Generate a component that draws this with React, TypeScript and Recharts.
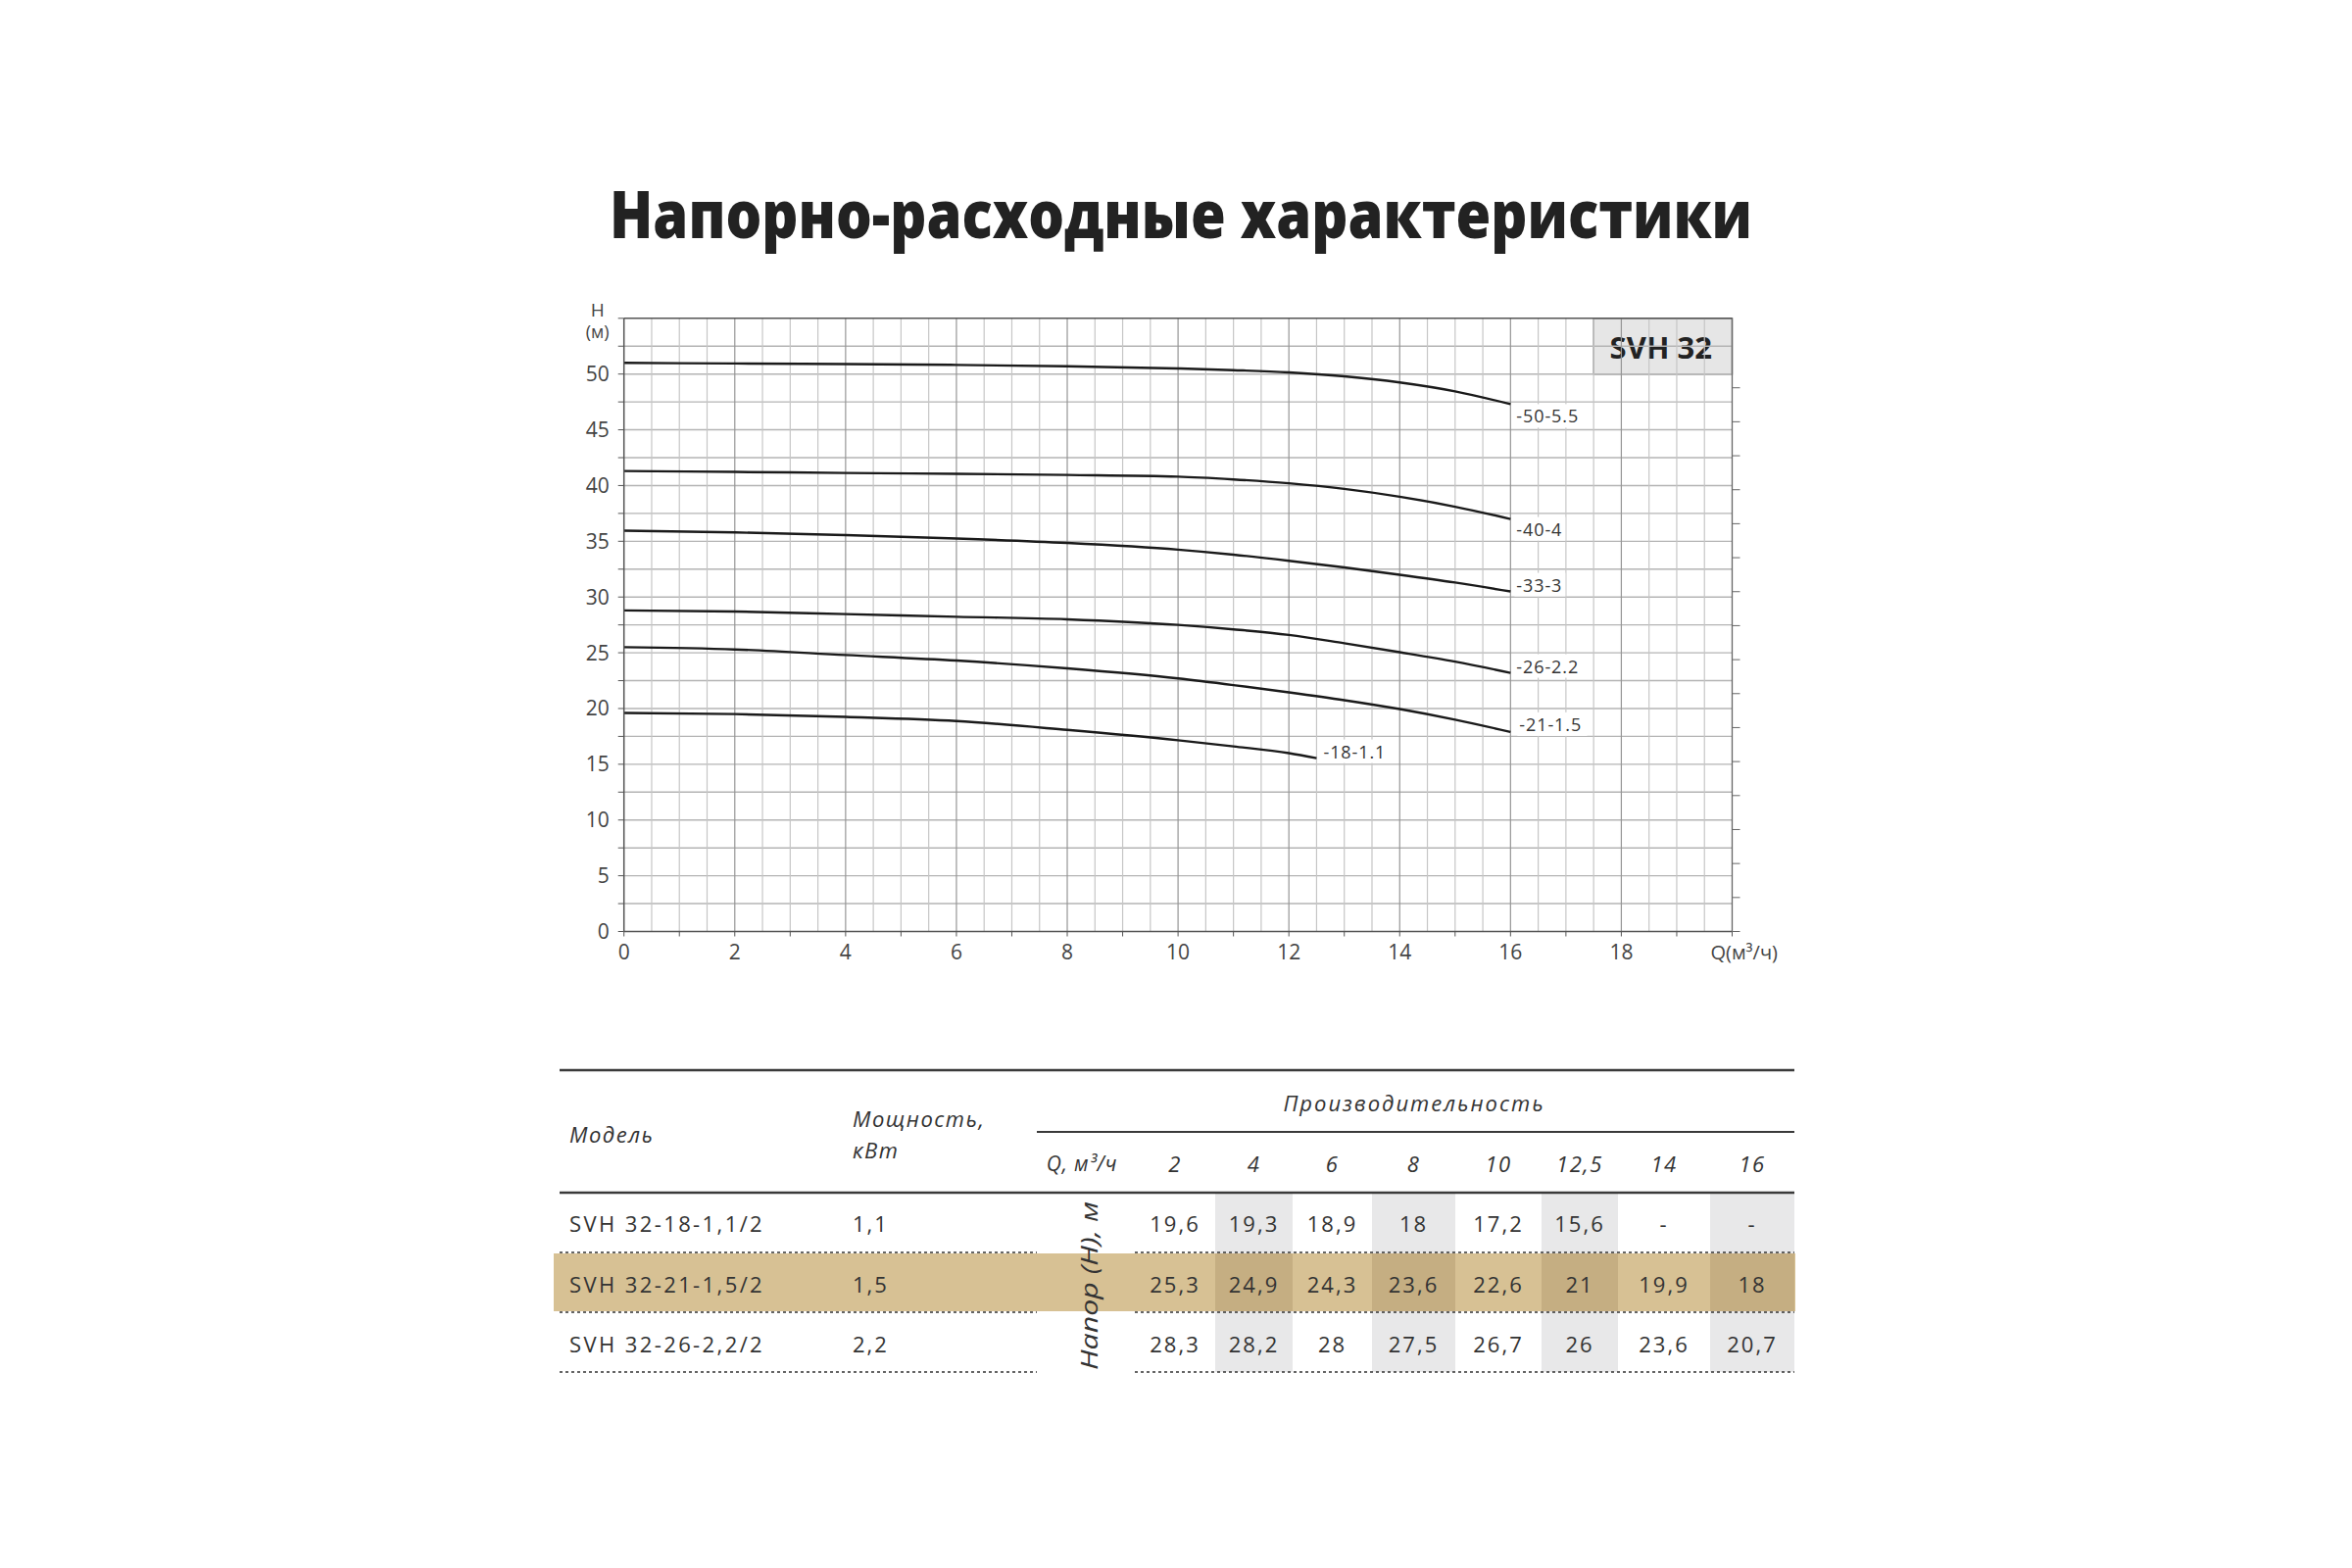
import React from 'react';
import { LineChart, Line, XAxis, YAxis, ReferenceLine, ReferenceArea } from 'recharts';

// ---------------- DATA ----------------
const TITLE = 'Напорно-расходные характеристики';
const SERIES_BADGE = 'SVH 32';

const Q_POINTS = [0, 2, 4, 6, 8, 10, 11, 12, 13, 14, 15, 16];
const H_50_55 = [51.0, 50.95, 50.9, 50.82, 50.7, 50.5, 50.35, 50.15, 49.8, 49.25, 48.45, 47.3];
const H_40_4 = [41.3, 41.22, 41.13, 41.05, 40.95, 40.8, 40.55, 40.2, 39.7, 39.0, 38.1, 37.0];
const H_33_3 = [35.95, 35.8, 35.55, 35.25, 34.85, 34.25, 33.8, 33.25, 32.65, 32.0, 31.3, 30.5];
const H_26_22 = [28.8, 28.7, 28.47, 28.23, 28.0, 27.5, 27.1, 26.6, 25.85, 25.05, 24.2, 23.2];
const H_21_15 = [25.5, 25.3, 24.8, 24.3, 23.6, 22.7, 22.1, 21.45, 20.75, 19.95, 19.0, 17.9];
const Q_POINTS_18 = [0, 2, 4, 6, 8, 10, 11, 12, 12.5];
const H_18_11 = [19.6, 19.5, 19.25, 18.88, 18.08, 17.15, 16.6, 16.0, 15.55];

const CURVE_NAMES = ['-50-5.5', '-40-4', '-33-3', '-26-2.2', '-21-1.5', '-18-1.1'];

const X_TICKS = [0, 1, 2, 3, 4, 5, 6, 7, 8, 9, 10, 11, 12, 13, 14, 15, 16, 17, 18, 19, 20];
const Y_TICKS = [0, 2.5, 5, 7.5, 10, 12.5, 15, 17.5, 20, 22.5, 25, 27.5, 30, 32.5, 35, 37.5, 40, 42.5, 45, 47.5, 50, 52.5, 55];
const GPM_TICKS = [0, 2.5, 5, 7.5, 10, 12.5, 15, 17.5, 20, 22.5, 25, 27.5, 30, 32.5, 35, 37.5, 40, 42.5, 45, 47.5, 50, 52.5, 55, 57.5, 60, 62.5, 65, 67.5, 70, 72.5, 75, 77.5, 80];
const FT_TICKS = [0, 10, 20, 30, 40, 50, 60, 70, 80, 90, 100, 110, 120, 130, 140, 150, 160];
const X_AXIS_UNIT = 'Q(м³/ч)';
const Y_AXIS_NAME = 'H';
const Y_AXIS_UNIT = '(м)';

const TABLE_FLOWS = ['2', '4', '6', '8', '10', '12,5', '14', '16'];
const TABLE_MODELS = ['SVH 32-18-1,1/2', 'SVH 32-21-1,5/2', 'SVH 32-26-2,2/2'];
const TABLE_POWERS = ['1,1', '1,5', '2,2'];
const TABLE_HEADS_18 = ['19,6', '19,3', '18,9', '18', '17,2', '15,6', '-', '-'];
const TABLE_HEADS_21 = ['25,3', '24,9', '24,3', '23,6', '22,6', '21', '19,9', '18'];
const TABLE_HEADS_26 = ['28,3', '28,2', '28', '27,5', '26,7', '26', '23,6', '20,7'];
const TABLE_HEAD_MODEL = 'Модель';
const TABLE_HEAD_POWER = ['Мощность,', 'кВт'];
const TABLE_HEAD_PERF = 'Производительность';
const TABLE_HEAD_Q = 'Q, м³/ч';
const TABLE_HEAD_H = 'Напор (H), м';

// ---------------- STYLE / LAYOUT ----------------
const FONT = "'Open Sans', 'Noto Sans', 'DejaVu Sans', sans-serif";
const M3H_PER_GPM = 0.2271247;
const M_PER_FT = 0.3048;

const buildData = (qs: number[], hs: number[]) => qs.map((q, i) => ({ q, h: hs[i] }));

const CURVES = [
  { name: CURVE_NAMES[0], data: buildData(Q_POINTS, H_50_55), dx: 6, dy: 12 },
  { name: CURVE_NAMES[1], data: buildData(Q_POINTS, H_40_4), dx: 6, dy: 10 },
  { name: CURVE_NAMES[2], data: buildData(Q_POINTS, H_33_3), dx: 6, dy: -7 },
  { name: CURVE_NAMES[3], data: buildData(Q_POINTS, H_26_22), dx: 6, dy: -7 },
  { name: CURVE_NAMES[4], data: buildData(Q_POINTS, H_21_15), dx: 9, dy: -8 },
  { name: CURVE_NAMES[5], data: buildData(Q_POINTS_18, H_18_11), dx: 7, dy: -7 },
];

const V_GRID: number[] = [];
for (let v = 0.5; v < 20; v += 0.5) V_GRID.push(v);
const H_GRID: number[] = [];
for (let v = 2.5; v < 55; v += 2.5) H_GRID.push(v);

const BottomTick = (props: any) => {
  const { x, y, payload } = props;
  const v = payload.value;
  if (v === 20) {
    return (
      <text x={x - 22} y={y + 7} dy="0.71em" textAnchor="start" fontSize={20} fill="#444" fontFamily={FONT}>
        {X_AXIS_UNIT}
      </text>
    );
  }
  if (v % 2 !== 0) return <g />;
  return (
    <text x={x} y={y + 7} dy="0.71em" textAnchor="middle" fontSize={21} fill="#444" fontFamily={FONT}>
      {v}
    </text>
  );
};

const TopTick = (props: any) => {
  const { x, y, payload } = props;
  const len = payload.value % 5 === 0 ? 8 : 4;
  return <line x1={x} x2={x} y1={y} y2={y - len} stroke="#555" strokeWidth={1.2} />;
};

const EmptyTick = () => <g />;

const HLabel = (props: any) => {
  const vb = props.viewBox || {};
  const cx = vb.x + vb.width - 27;
  return (
    <g>
      <text x={cx} y={vb.y - 9} textAnchor="middle" dominantBaseline="central" fontSize={19} fill="#444" fontFamily={FONT}>
        {Y_AXIS_NAME}
      </text>
      <text x={cx} y={vb.y + 13} textAnchor="middle" dominantBaseline="central" fontSize={18} fill="#444" fontFamily={FONT}>
        {Y_AXIS_UNIT}
      </text>
    </g>
  );
};

const BadgeLabel = (props: any) => {
  const vb = props.viewBox || {};
  return (
    <text x={vb.x + vb.width / 2 - 2} y={vb.y + vb.height / 2 + 1} textAnchor="middle" dominantBaseline="central" fontSize={31} fontWeight={700} fill="#222" fontFamily={FONT}>
      {SERIES_BADGE}
    </text>
  );
};

const makeEndLabel = (c: any) => (props: any) => {
  const { x, y, index } = props;
  if (index !== c.data.length - 1) return <g key={`l${index}`} />;
  const tx = x + c.dx;
  const ty = y + c.dy;
  const w = c.name.length * 9.6 + 4;
  return (
    <g key={`l${index}`}>
      <rect x={tx - 2} y={ty - 12} width={w} height={24} fill="#fff" />
      <text x={tx} y={ty} dominantBaseline="central" fontSize={18} letterSpacing={0.9} fill="#333" fontFamily={FONT}>
        {c.name}
      </text>
    </g>
  );
};

const Chart = () => (
  <LineChart width={1320} height={720} margin={{ top: 24.8, right: 82.5, bottom: 19.5, left: 36.7 }}>
    <XAxis
      xAxisId="q"
      dataKey="q"
      type="number"
      domain={[0, 20]}
      allowDataOverflow
      ticks={X_TICKS}
      interval={0}
      height={40}
      tickSize={5}
      tick={<BottomTick />}
      axisLine={{ stroke: '#555', strokeWidth: 1.5 }}
      tickLine={{ stroke: '#555' }}
    />
    <XAxis
      xAxisId="gpm"
      orientation="top"
      type="number"
      domain={[0, 20 / M3H_PER_GPM]}
      allowDataOverflow
      ticks={GPM_TICKS}
      interval={0}
      height={10}
      tickSize={0}
      tickMargin={0}
      tick={<TopTick />}
      tickLine={false}
      axisLine={{ stroke: '#555', strokeWidth: 1.5 }}
    />
    <YAxis
      yAxisId="h"
      type="number"
      domain={[0, 55]}
      allowDataOverflow
      ticks={Y_TICKS}
      interval={0}
      width={60}
      tickSize={6}
      tickMargin={9}
      tickFormatter={(v: number) => (v % 5 === 0 && v < 55 ? String(v) : '')}
      tick={{ fontSize: 21, fill: '#444', fontFamily: FONT }}
      axisLine={{ stroke: '#555', strokeWidth: 1.5 }}
      tickLine={{ stroke: '#555' }}
      label={{ content: HLabel }}
    />
    <YAxis
      yAxisId="ft"
      orientation="right"
      type="number"
      domain={[0, 55 / M_PER_FT]}
      allowDataOverflow
      ticks={FT_TICKS}
      interval={0}
      width={10}
      tickSize={8}
      tick={<EmptyTick />}
      axisLine={{ stroke: '#666', strokeWidth: 1.3 }}
      tickLine={{ stroke: '#666' }}
    />
    {H_GRID.map((v) => (
      <ReferenceLine key={`h${v}`} xAxisId="q" yAxisId="h" y={v} stroke="#b4b4b4" strokeWidth={1.4} />
    ))}
    {V_GRID.map((v) => (
      <ReferenceLine
        key={`v${v}`}
        xAxisId="q"
        yAxisId="h"
        x={v}
        stroke={v % 2 === 0 ? '#969696' : '#c6c6c6'}
        strokeWidth={1.2}
      />
    ))}
    <ReferenceArea
      xAxisId="q"
      yAxisId="h"
      x1={17.5}
      x2={20}
      y1={50}
      y2={55}
      fill="#e6e6e6"
      fillOpacity={1}
      stroke="#8a8a8a"
      strokeWidth={1.5}
      ifOverflow="visible"
      label={{ content: BadgeLabel }}
    />
    {CURVES.map((c) => (
      <Line
        key={c.name}
        xAxisId="q"
        yAxisId="h"
        data={c.data}
        dataKey="h"
        type="monotone"
        stroke="#1a1a1a"
        strokeWidth={2.4}
        dot={false}
        isAnimationActive={false}
        label={makeEndLabel(c)}
      />
    ))}
  </LineChart>
);

// table layout
const COL_EDGES = [1158, 1240, 1319, 1400, 1485, 1573, 1651, 1745, 1831];
const ROW_Y = [1248, 1310, 1371];
const TABLE_ROWS = [TABLE_HEADS_18, TABLE_HEADS_21, TABLE_HEADS_26];
const TXT = '#333';

const Table = () => {
  const centers = COL_EDGES.slice(0, -1).map((e, i) => (e + COL_EDGES[i + 1]) / 2);
  const shaded = [1, 3, 5, 7];
  const dotted = [1278, 1339, 1400];
  return (
    <g fontFamily={FONT}>
      {shaded.map((i) => (
        <rect key={`s${i}`} x={COL_EDGES[i]} y={1217} width={COL_EDGES[i + 1] - COL_EDGES[i]} height={183} fill="#e8e8e9" />
      ))}
      <rect x={565} y={1279} width={1267} height={59} fill="#d7c194" />
      {shaded.map((i) => (
        <rect key={`d${i}`} x={COL_EDGES[i]} y={1279} width={COL_EDGES[i + 1] - COL_EDGES[i]} height={59} fill="#c5ae82" />
      ))}
      <line x1={571} x2={1831} y1={1092} y2={1092} stroke="#3a3a3a" strokeWidth={2.5} />
      <line x1={1058} x2={1831} y1={1155} y2={1155} stroke="#3a3a3a" strokeWidth={2} />
      <line x1={571} x2={1831} y1={1217} y2={1217} stroke="#3a3a3a" strokeWidth={2.5} />
      {dotted.map((y) => (
        <g key={`dl${y}`}>
          <line x1={571} x2={1058} y1={y} y2={y} stroke="#333" strokeWidth={1.4} strokeDasharray="3 3" />
          <line x1={1158} x2={1831} y1={y} y2={y} stroke="#333" strokeWidth={1.4} strokeDasharray="3 3" />
        </g>
      ))}
      <text x={581} y={1157} dominantBaseline="central" fontSize={22} fontStyle="italic" letterSpacing={1.5} fill={TXT}>
        {TABLE_HEAD_MODEL}
      </text>
      <text x={870} y={1141} dominantBaseline="central" fontSize={22} fontStyle="italic" letterSpacing={1.5} fill={TXT}>
        {TABLE_HEAD_POWER[0]}
      </text>
      <text x={870} y={1173} dominantBaseline="central" fontSize={22} fontStyle="italic" letterSpacing={1.5} fill={TXT}>
        {TABLE_HEAD_POWER[1]}
      </text>
      <text x={1443} y={1125} textAnchor="middle" dominantBaseline="central" fontSize={22} fontStyle="italic" letterSpacing={2} fill={TXT}>
        {TABLE_HEAD_PERF}
      </text>
      <text x={1104} y={1187} textAnchor="middle" dominantBaseline="central" fontSize={21} fontStyle="italic" letterSpacing={0.8} fill={TXT}>
        {TABLE_HEAD_Q}
      </text>
      {TABLE_FLOWS.map((f, i) => (
        <text key={`f${i}`} x={centers[i]} y={1187} textAnchor="middle" dominantBaseline="central" fontSize={22} fontStyle="italic" letterSpacing={1.5} fill={TXT}>
          {f}
        </text>
      ))}
      {TABLE_MODELS.map((m, r) => (
        <g key={`r${r}`}>
          <text x={581} y={ROW_Y[r]} dominantBaseline="central" fontSize={22} letterSpacing={2.4} fill={TXT}>
            {m}
          </text>
          <text x={870} y={ROW_Y[r]} dominantBaseline="central" fontSize={22} letterSpacing={2} fill={TXT}>
            {TABLE_POWERS[r]}
          </text>
          {TABLE_ROWS[r].map((v, i) => (
            <text key={`c${i}`} x={centers[i]} y={ROW_Y[r]} textAnchor="middle" dominantBaseline="central" fontSize={22} letterSpacing={2} fill={TXT}>
              {v}
            </text>
          ))}
        </g>
      ))}
      <text
        transform="translate(1110,1312) rotate(-90)"
        textAnchor="middle"
        dominantBaseline="central"
        fontSize={24}
        fontStyle="italic"
        textLength={172}
        lengthAdjust="spacingAndGlyphs"
        fill={TXT}
      >
        {TABLE_HEAD_H}
      </text>
    </g>
  );
};

export default function App() {
  return (
    <div style={{ position: 'absolute', left: 0, top: 0, width: 2400, height: 1600, background: '#fff', overflow: 'hidden' }}>
      <svg width={2400} height={1600} style={{ position: 'absolute', left: 0, top: 0 }}>
        <text
          x={622}
          y={243}
          textLength={1166}
          lengthAdjust="spacingAndGlyphs"
          fontSize={68}
          fontWeight={800}
          fill="#222"
          fontFamily={FONT}
        >
          {TITLE}
        </text>
        <Table />
      </svg>
      <div style={{ position: 'absolute', left: 540, top: 290 }}>
        <Chart />
      </div>
    </div>
  );
}
